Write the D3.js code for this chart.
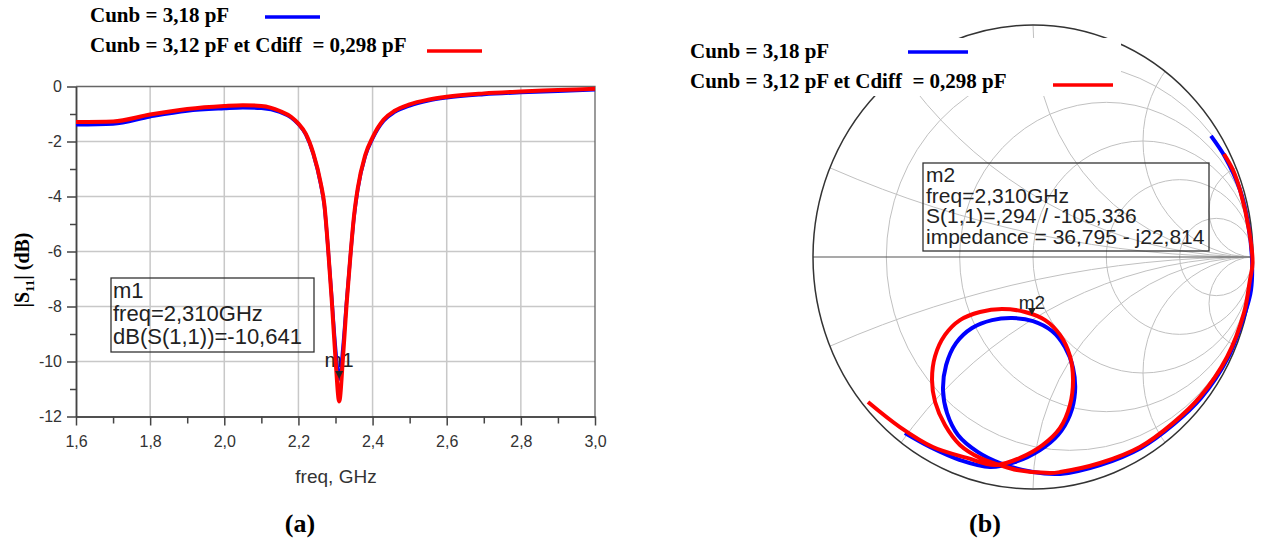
<!DOCTYPE html>
<html>
<head>
<meta charset="utf-8">
<script src="https://cdn.jsdelivr.net/npm/d3@7"></script>
<style>
  body { margin: 0; background: #fff; }
  svg { display: block; }
</style>
</head>
<body>
<div id="chart"></div>
<script>
// ---------------- data ----------------
var legendLabels = ["Cunb = 3,18 pF", "Cunb = 3,12 pF et Cdiff  = 0,298 pF"];
var seriesColors = ["#0000ff", "#ff0000"];

// (a) |S11| in dB versus frequency
var freqGHz = [1.6, 1.7, 1.8, 1.9, 2.0, 2.05, 2.1, 2.15, 2.18, 2.2, 2.22, 2.24, 2.26, 2.27, 2.28, 2.29,
  2.30, 2.31, 2.32, 2.33, 2.34, 2.35, 2.36, 2.38, 2.40, 2.43, 2.46, 2.5, 2.55, 2.6, 2.7, 2.8, 2.9, 3.0];
var s11Blue = [-1.39, -1.36, -1.10, -0.89, -0.80, -0.77, -0.79, -0.93, -1.13, -1.38, -1.75, -2.45, -3.55, -4.35, -5.9, -7.7,
  -9.5, -10.64, -9.5, -7.8, -6.2, -4.75, -3.75, -2.55, -1.9, -1.25, -0.93, -0.70, -0.52, -0.41, -0.29, -0.22, -0.17, -0.12];
var s11Red = [-1.29, -1.27, -1.02, -0.82, -0.71, -0.68, -0.71, -0.89, -1.10, -1.35, -1.72, -2.42, -3.5, -4.3, -5.9, -7.8,
  -9.9, -11.45, -9.9, -7.9, -6.2, -4.7, -3.7, -2.5, -1.85, -1.2, -0.88, -0.65, -0.48, -0.37, -0.25, -0.18, -0.13, -0.08];
var xMajorTicks = [1.6, 1.8, 2.0, 2.2, 2.4, 2.6, 2.8, 3.0];
var xMinorTicks = [1.7, 1.9, 2.1, 2.3, 2.5, 2.7, 2.9];
var yMajorTicks = [0, -2, -4, -6, -8, -10, -12];
var yMinorTicks = [-1, -3, -5, -7, -9, -11];
var m1Point = [2.31, -10.64];
var m1Lines = ["m1", "freq=2,310GHz", "dB(S(1,1))=-10,641"];

// (b) S11 on the Smith chart, [re, im] of the reflection coefficient
var smithBlue = [[0.809, 0.522], [0.873, 0.431], [0.941, 0.289], [0.977, 0.147], [0.995, 0.0], [0.991, -0.142],
  [0.964, -0.241], [0.886, -0.435], [0.764, -0.608], [0.641, -0.720], [0.491, -0.823], [0.305, -0.897],
  [0.123, -0.935], [0.0, -0.927], [-0.15, -0.888], [-0.25, -0.841], [-0.341, -0.767], [-0.391, -0.672],
  [-0.409, -0.573], [-0.395, -0.466], [-0.35, -0.371], [-0.277, -0.306], [-0.186, -0.272], [-0.095, -0.263],
  [0.0, -0.276], [0.086, -0.319], [0.145, -0.388], [0.182, -0.478], [0.191, -0.582], [0.168, -0.681],
  [0.114, -0.767], [0.032, -0.832], [-0.082, -0.884], [-0.195, -0.905], [-0.332, -0.875], [-0.468, -0.819],
  [-0.582, -0.759]];
var smithRed = [[0.868, 0.444], [0.909, 0.375], [0.941, 0.289], [0.982, 0.116], [0.998, -0.026], [0.986, -0.099],
  [0.959, -0.241], [0.882, -0.431], [0.759, -0.603], [0.636, -0.716], [0.486, -0.819], [0.305, -0.888],
  [0.123, -0.927], [0.077, -0.931], [-0.073, -0.918], [-0.15, -0.897], [-0.241, -0.866], [-0.332, -0.81],
  [-0.40, -0.724], [-0.445, -0.625], [-0.459, -0.530], [-0.445, -0.427], [-0.40, -0.336], [-0.332, -0.272],
  [-0.241, -0.237], [-0.141, -0.224], [-0.036, -0.237], [0.055, -0.272], [0.123, -0.336], [0.168, -0.427],
  [0.182, -0.530], [0.168, -0.638], [0.123, -0.737], [0.045, -0.810], [-0.059, -0.866], [-0.173, -0.897],
  [-0.3, -0.866], [-0.455, -0.819], [-0.605, -0.733], [-0.75, -0.625]];
var resistanceValues = [0.2, 0.5, 1, 2, 5];
var reactanceValues = [0.2, 0.5, 1, 2, 5];
var m2Point = [-0.005, -0.25];
var m2Lines = ["m2", "freq=2,310GHz", "S(1,1)=,294 / -105,336", "impedance = 36,795 - j22,814"];

var captions = ["(a)", "(b)"];

// ---------------- setup ----------------
var sans = "'Liberation Sans', Arial, sans-serif",
  serif = "'Liberation Serif', 'Times New Roman', serif",
  gridColor = '#c8c8c8',
  textColor = '#333';

// comma decimals and a plain hyphen for negatives, as in the ADS plot
var locale = d3.formatLocale({ decimal: ",", thousands: ".", grouping: [3], currency: ["", ""], minus: "-" });
var fmt1 = locale.format(".1f"),
  fmtInt = locale.format("d");

var svg = d3.select('#chart').append('svg')
  .attr('width', 1285)
  .attr('height', 553);

svg.append('rect').attr('width', 1285).attr('height', 553).attr('fill', '#fff');

// ----------------------------------------------------
// (a) rectangular plot
// ----------------------------------------------------
var x = d3.scaleLinear().domain([1.6, 3.0]).range([76, 595]),
  y = d3.scaleLinear().domain([-12, 0]).range([416.5, 86.5]);

var left = svg.append('g');

// grid
left.append('g').selectAll('line')
  .data(xMajorTicks.slice(1, -1))
  .join('line')
  .attr('x1', d => x(d)).attr('x2', d => x(d))
  .attr('y1', y(0)).attr('y2', y(-12))
  .attr('stroke', gridColor).attr('stroke-width', 1.5);

left.append('g').selectAll('line')
  .data(yMajorTicks.slice(1, -1))
  .join('line')
  .attr('x1', x(1.6)).attr('x2', x(3.0))
  .attr('y1', d => y(d)).attr('y2', d => y(d))
  .attr('stroke', gridColor).attr('stroke-width', 1.5);

// frame top and right
left.append('path')
  .attr('d', 'M' + x(1.6) + ',' + y(0) + 'H' + x(3.0) + 'V' + y(-12))
  .attr('fill', 'none').attr('stroke', '#666').attr('stroke-width', 1.3);

// axes
function styleAxis(g) {
  g.select('.domain').attr('stroke', '#444').attr('stroke-width', 1.5);
  g.selectAll('.tick line').attr('stroke', '#444').attr('stroke-width', 1.5);
  g.selectAll('text').attr('fill', textColor).style('font', '16px ' + sans);
}

left.append('g')
  .attr('transform', 'translate(0,' + y(-12) + ')')
  .call(d3.axisBottom(x).tickValues(xMinorTicks).tickSize(7).tickSizeOuter(0).tickFormat(''))
  .call(styleAxis);
left.append('g')
  .attr('transform', 'translate(0,' + y(-12) + ')')
  .call(d3.axisBottom(x).tickValues(xMajorTicks).tickSize(9).tickSizeOuter(0).tickPadding(10).tickFormat(fmt1))
  .call(styleAxis);

left.append('g')
  .attr('transform', 'translate(' + x(1.6) + ',0)')
  .call(d3.axisLeft(y).tickValues(yMinorTicks).tickSize(6).tickSizeOuter(0).tickFormat(''))
  .call(styleAxis);
left.append('g')
  .attr('transform', 'translate(' + x(1.6) + ',0)')
  .call(d3.axisLeft(y).tickValues(yMajorTicks).tickSize(9).tickSizeOuter(0).tickPadding(5).tickFormat(fmtInt))
  .call(styleAxis);

// axis titles
left.append('text')
  .attr('x', 336).attr('y', 483)
  .attr('text-anchor', 'middle')
  .attr('fill', textColor)
  .style('font', '19px ' + sans)
  .text('freq, GHz');

var yTitle = left.append('text')
  .attr('transform', 'translate(29,270) rotate(-90)')
  .attr('text-anchor', 'middle')
  .attr('fill', '#000')
  .style('font', 'bold 20px ' + serif);
yTitle.append('tspan').text('|S');
yTitle.append('tspan').attr('dy', 5).style('font-size', '13px').text('11');
yTitle.append('tspan').attr('dy', -5).text('| (dB)');

// marker box m1
left.append('rect')
  .attr('x', 111).attr('y', 278).attr('width', 203).attr('height', 74)
  .attr('fill', 'none').attr('stroke', '#333').attr('stroke-width', 1.3);
left.append('g').selectAll('text')
  .data(m1Lines)
  .join('text')
  .attr('x', 113).attr('y', (d, i) => 298 + i * 23)
  .attr('fill', '#222')
  .style('font', '22px ' + sans)
  .text(d => d);

// marker label (drawn under the traces)
left.append('text')
  .attr('x', x(m1Point[0])).attr('y', y(m1Point[1]) - 12)
  .attr('text-anchor', 'middle')
  .attr('fill', '#222')
  .style('font', '21px ' + sans)
  .text('m1');

// traces
var line = d3.line()
  .x(d => x(d[0]))
  .y(d => y(d[1]))
  .curve(d3.curveMonotoneX);

left.append('path')
  .datum(d3.zip(freqGHz, s11Blue))
  .attr('d', line)
  .attr('fill', 'none').attr('stroke', seriesColors[0]).attr('stroke-width', 3.5)
  .attr('stroke-linejoin', 'round');
left.append('path')
  .datum(d3.zip(freqGHz, s11Red))
  .attr('d', line)
  .attr('fill', 'none').attr('stroke', seriesColors[1]).attr('stroke-width', 4)
  .attr('stroke-linejoin', 'round');

left.append('path')
  .attr('d', function () {
    var px = x(m1Point[0]), py = y(m1Point[1]);
    return 'M' + px + ',' + py + 'L' + (px - 4) + ',' + (py - 8) + 'L' + (px + 4) + ',' + (py - 8) + 'Z';
  })
  .attr('fill', '#222');

// ----------------------------------------------------
// (b) Smith chart
// ----------------------------------------------------
var sx = d3.scaleLinear().domain([-1, 1]).range([813, 1253]),
  sy = d3.scaleLinear().domain([-1, 1]).range([489, 25]);
var rxUnit = sx(1) - sx(0),
  ryUnit = sy(0) - sy(1);

var right = svg.append('g');

right.append('clipPath').attr('id', 'smithClip')
  .append('ellipse')
  .attr('cx', sx(0)).attr('cy', sy(0))
  .attr('rx', rxUnit).attr('ry', ryUnit);

var grid = right.append('g').attr('clip-path', 'url(#smithClip)');

// constant resistance circles
grid.selectAll('ellipse.res')
  .data(resistanceValues)
  .join('ellipse')
  .attr('class', 'res')
  .attr('cx', d => sx(d / (1 + d))).attr('cy', sy(0))
  .attr('rx', d => rxUnit / (1 + d)).attr('ry', d => ryUnit / (1 + d))
  .attr('fill', 'none').attr('stroke', '#c0c0c0').attr('stroke-width', 1);

// constant reactance arcs
grid.selectAll('ellipse.reac')
  .data(reactanceValues.concat(reactanceValues.map(d => -d)))
  .join('ellipse')
  .attr('class', 'reac')
  .attr('cx', sx(1)).attr('cy', d => sy(1 / d))
  .attr('rx', d => rxUnit / Math.abs(d)).attr('ry', d => ryUnit / Math.abs(d))
  .attr('fill', 'none').attr('stroke', '#c0c0c0').attr('stroke-width', 1);

// real axis and outer circle
right.append('line')
  .attr('x1', sx(-1)).attr('x2', sx(1))
  .attr('y1', sy(0)).attr('y2', sy(0))
  .attr('stroke', '#555').attr('stroke-width', 1.2);
right.append('ellipse')
  .attr('cx', sx(0)).attr('cy', sy(0))
  .attr('rx', rxUnit).attr('ry', ryUnit)
  .attr('fill', 'none').attr('stroke', '#333').attr('stroke-width', 1.5);

// marker box m2
right.append('rect')
  .attr('x', 923).attr('y', 163).attr('width', 286).attr('height', 88)
  .attr('fill', 'none').attr('stroke', '#333').attr('stroke-width', 1.3);
right.append('g').selectAll('text')
  .data(m2Lines)
  .join('text')
  .attr('x', 926).attr('y', (d, i) => 182 + i * 20.6)
  .attr('fill', '#222')
  .style('font', '21px ' + sans)
  .text(d => d);

right.append('text')
  .attr('x', sx(m2Point[0])).attr('y', sy(m2Point[1]) - 6)
  .attr('text-anchor', 'middle')
  .attr('fill', '#222')
  .style('font', '19px ' + sans)
  .text('m2');

var smithLine = d3.line()
  .x(d => sx(d[0]))
  .y(d => sy(d[1]))
  .curve(d3.curveCatmullRom.alpha(0.5));

right.append('path')
  .datum(smithBlue)
  .attr('d', smithLine)
  .attr('fill', 'none').attr('stroke', seriesColors[0]).attr('stroke-width', 4);
right.append('path')
  .datum(smithRed)
  .attr('d', smithLine)
  .attr('fill', 'none').attr('stroke', seriesColors[1]).attr('stroke-width', 4);

right.append('path')
  .attr('d', function () {
    var px = sx(m2Point[0]), py = sy(m2Point[1]);
    return 'M' + px + ',' + py + 'L' + (px - 4) + ',' + (py - 7) + 'L' + (px + 4) + ',' + (py - 7) + 'Z';
  })
  .attr('fill', '#222');

// ----------------------------------------------------
// legends
// ----------------------------------------------------
function drawLegend(g, textX, baselines, lineXs, lineYs) {
  g.append('rect')
    .attr('x', textX - 10).attr('y', baselines[0] - 20)
    .attr('width', lineXs[1][1] - textX + 18).attr('height', baselines[1] - baselines[0] + 28)
    .attr('fill', '#fff');
  legendLabels.forEach(function (label, i) {
    g.append('text')
      .attr('x', textX).attr('y', baselines[i])
      .attr('xml:space', 'preserve')
      .attr('fill', '#000')
      .style('font', 'bold 21px ' + serif)
      .text(label);
    g.append('line')
      .attr('x1', lineXs[i][0]).attr('x2', lineXs[i][1])
      .attr('y1', lineYs[i]).attr('y2', lineYs[i])
      .attr('stroke', seriesColors[i]).attr('stroke-width', 3.5);
  });
}

drawLegend(svg.append('g'), 90, [22, 52], [[265, 320], [427, 482]], [17, 51]);
drawLegend(svg.append('g'), 690, [58, 88], [[908, 968], [1053, 1113]], [52, 85]);

// captions
svg.selectAll('text.caption')
  .data(captions)
  .join('text')
  .attr('class', 'caption')
  .attr('x', (d, i) => [300, 985][i]).attr('y', 532)
  .attr('text-anchor', 'middle')
  .attr('fill', '#000')
  .style('font', 'bold 26px ' + serif)
  .text(d => d);
</script>
</body>
</html>
